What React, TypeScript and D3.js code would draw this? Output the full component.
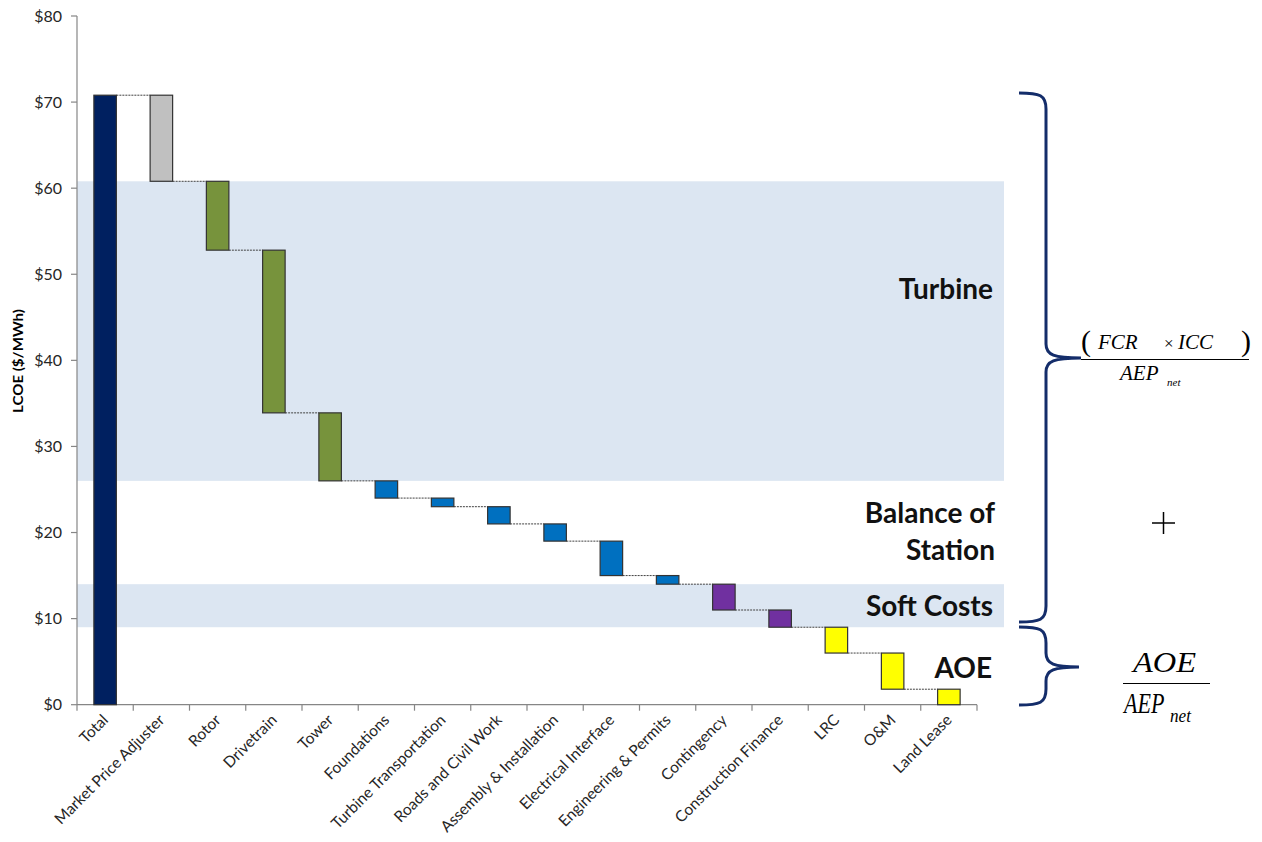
import React from 'react';
import * as d3 from 'd3';

// cost components, $/MWh
const categories = [
  'Total', 'Market Price Adjuster', 'Rotor', 'Drivetrain', 'Tower', 'Foundations',
  'Turbine Transportation', 'Roads and Civil Work', 'Assembly & Installation',
  'Electrical Interface', 'Engineering & Permits', 'Contingency', 'Construction Finance',
  'LRC', 'O&M', 'Land Lease',
];
const deltas = [70.8, 10, 8, 18.9, 7.9, 2, 1, 2, 2, 4, 1, 3, 2, 3, 4.2, 1.8];
const groups = [
  'total', 'market', 'turbine', 'turbine', 'turbine', 'bos', 'bos', 'bos', 'bos', 'bos', 'bos',
  'soft', 'soft', 'aoe', 'aoe', 'aoe',
];
const yTicks = [0, 10, 20, 30, 40, 50, 60, 70, 80];

// shaded sections
const shadeRanges: [number, number][] = [[26, 60.8], [9, 14]];

const groupColors: Record<string, string> = {
  total: '#002060',
  market: '#C0C0C0',
  turbine: '#77933C',
  bos: '#0070C0',
  soft: '#7030A0',
  aoe: '#FFFF00',
};

const W = 1262;
const H = 842;
const FONT = 'Lato, "Open Sans", sans-serif';
const SERIF = '"Liberation Serif", "DejaVu Serif", serif';

const x = d3.scaleBand<string>()
  .domain(categories)
  .range([77, 977])
  .paddingInner(0.6)
  .paddingOuter(0.3);

const y = d3.scaleLinear().domain([0, 80]).range([704.7, 16]);

// running waterfall levels
const bars = (() => {
  let level = 0;
  return categories.map((c, i) => {
    if (i === 0) {
      level = deltas[0];
      return { c, top: deltas[0], bottom: 0, g: groups[i] };
    }
    const top = level;
    level = level - deltas[i];
    return { c, top, bottom: Math.max(level, 0), g: groups[i] };
  });
})();

const bracePath = (xl: number, xv: number, xt: number, y0: number, ym: number, y1: number) =>
  `M${xl},${y0} C${xv - 6},${y0} ${xv},${y0 + 2} ${xv},${y0 + 16}` +
  ` L${xv},${ym - 14} C${xv},${ym - 3} ${xv + 8},${ym} ${xt},${ym}` +
  ` C${xv + 8},${ym} ${xv},${ym + 3} ${xv},${ym + 14}` +
  ` L${xv},${y1 - 16} C${xv},${y1 - 2} ${xv - 6},${y1} ${xl},${y1}`;

const App: React.FC = () => {
  const step = x.step();
  const bw = x.bandwidth();
  const x0 = x.range()[0];
  const x1 = x.range()[1];

  return (
    <div style={{ position: 'absolute', left: 0, top: 0 }}>
      <svg width={W} height={H} style={{ display: 'block', background: '#fff' }}>
        {/* shaded sections */}
        {shadeRanges.map(([lo, hi], i) => (
          <rect key={i} x={x0} y={y(hi)} width={1004 - x0} height={y(lo) - y(hi)} fill="#DCE6F2" />
        ))}

        {/* y axis */}
        <line x1={x0} x2={x0} y1={y(80)} y2={y(0)} stroke="#868686" strokeWidth={1.2} />
        {yTicks.map((t) => (
          <g key={t}>
            <line x1={x0 - 6} x2={x0} y1={y(t)} y2={y(t)} stroke="#868686" strokeWidth={1.2} />
            <text x={62} y={y(t)} dy="0.36em" textAnchor="end" fontFamily={FONT} fontSize={16} fill="#262626">
              ${t}
            </text>
          </g>
        ))}
        <text
          transform={`translate(18,${361}) rotate(-90)`}
          textAnchor="middle"
          dy="0.35em"
          fontFamily={FONT}
          fontWeight="bold"
          fontSize={13.5}
          fill="#000"
          textLength={104}
          lengthAdjust="spacingAndGlyphs"
        >
          LCOE ($/MWh)
        </text>

        {/* x axis */}
        <line x1={x0} x2={x1} y1={y(0)} y2={y(0)} stroke="#868686" strokeWidth={1.2} />
        {d3.range(categories.length + 1).map((i) => (
          <line key={i} x1={x0 + i * step} x2={x0 + i * step} y1={y(0)} y2={y(0) + 6} stroke="#868686" strokeWidth={1.2} />
        ))}
        {categories.map((c) => {
          const cx = (x(c) ?? 0) + bw / 2;
          return (
            <text
              key={c}
              transform={`translate(${cx + 4},${721}) rotate(-45)`}
              textAnchor="end"
              fontFamily={FONT}
              fontSize={15.5}
              fill="#262626"
            >
              {c}
            </text>
          );
        })}

        {/* connectors */}
        {bars.slice(0, -1).map((b, i) => {
          const next = bars[i + 1];
          const level = i === 0 ? b.top : b.bottom;
          return (
            <line
              key={b.c}
              x1={(x(b.c) ?? 0) + bw}
              x2={x(next.c) ?? 0}
              y1={y(level)}
              y2={y(level)}
              stroke="#404040"
              strokeWidth={1}
              strokeDasharray="2,1"
            />
          );
        })}

        {/* bars */}
        {bars.map((b) => (
          <rect
            key={b.c}
            x={x(b.c)}
            y={y(b.top)}
            width={bw}
            height={y(b.bottom) - y(b.top)}
            fill={groupColors[b.g]}
            stroke="#333"
            strokeWidth={1.2}
          />
        ))}

        {/* section labels */}
        <g fontFamily={FONT} fontWeight="bold" fontSize={28} fill="#111" textAnchor="end">
          <text x={993} y={299}>Turbine</text>
          <text x={995} y={523}>Balance of</text>
          <text x={995} y={560}>Station</text>
          <text x={993} y={616}>Soft Costs</text>
          <text x={992} y={678}>AOE</text>
        </g>

        {/* braces */}
        <path d={bracePath(1019, 1046, 1081, 93, 358, 622)} fill="none" stroke="#142D6A" strokeWidth={3} />
        <path d={bracePath(1019, 1046, 1079, 627, 667, 705)} fill="none" stroke="#142D6A" strokeWidth={3} />

        {/* formulas */}
        <g fontFamily={SERIF} fontStyle="italic" fill="#000">
          <text x={1081} y={351} fontSize={30} fontStyle="normal">(</text>
          <text x={1098} y={349} fontSize={21}>FCR</text>
          <text x={1164} y={349} fontSize={17} fontStyle="normal">×</text>
          <text x={1178} y={349} fontSize={21}>ICC</text>
          <text x={1241} y={351} fontSize={30} fontStyle="normal">)</text>
          <line x1={1081} x2={1249} y1={359.5} y2={359.5} stroke="#000" strokeWidth={1} />
          <text x={1120} y={380} fontSize={21}>AEP</text>
          <text x={1167} y={386} fontSize={11}>net</text>

          <line x1={1152} x2={1175} y1={523} y2={523} stroke="#000" strokeWidth={1.5} />
          <line x1={1163.5} x2={1163.5} y1={512} y2={534} stroke="#000" strokeWidth={1.5} />

          <text transform="translate(1133,672) scale(1.12,1)" fontSize={29}>AOE</text>
          <line x1={1123} x2={1210} y1={683.5} y2={683.5} stroke="#000" strokeWidth={1} />
          <text transform="translate(1124,713) scale(0.76,1)" fontSize={29}>AEP</text>
          <text transform="translate(1170,722) scale(0.95,1)" fontSize={18}>net</text>
        </g>
      </svg>
    </div>
  );
};

export default App;
